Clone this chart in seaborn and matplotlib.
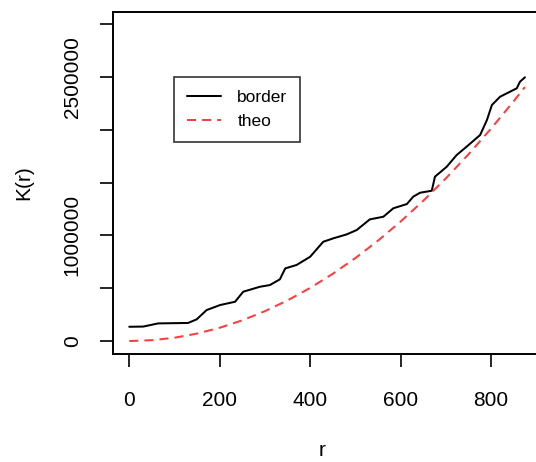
import matplotlib
matplotlib.use("Agg")
import matplotlib.pyplot as plt
import seaborn as sns
import pandas as pd

# values
r_border = [0, 31, 64, 130, 149, 171, 201, 234, 252, 289, 311, 333, 345, 370,
            400, 429, 451, 481, 503, 532, 562, 584, 614, 628, 643, 669, 676,
            702, 724, 746, 776, 791, 802, 820, 857, 864, 875]
k_border = [135000, 137000, 167000, 171000, 205000, 293000, 341000, 372000,
            467000, 514000, 530000, 584000, 688000, 720000, 798000, 940000,
            972000, 1010000, 1051000, 1152000, 1177000, 1257000, 1297000,
            1367000, 1404000, 1423000, 1556000, 1650000, 1761000, 1840000,
            1951000, 2093000, 2235000, 2313000, 2393000, 2455000, 2497000]

r_theo = [0, 50, 100, 150, 200, 250, 300, 350, 400, 450, 500, 550, 600, 650,
          700, 750, 800, 850, 875]
k_theo = [0, 7850, 31400, 70700, 125700, 196300, 282700, 384800, 502700,
          636200, 785400, 950300, 1131000, 1327300, 1539400, 1767100,
          2010600, 2269800, 2405300]

x_ticks = [0, 200, 400, 600, 800]
y_ticks = [0, 500000, 1000000, 1500000, 2000000, 2500000, 3000000]
y_labels = ["0", "", "1000000", "", "", "2500000", ""]

sns.set_theme(style="white")
plt.rcParams["font.family"] = ["Liberation Sans", "DejaVu Sans"]

df_border = pd.DataFrame({"r": r_border, "K": k_border})
df_theo = pd.DataFrame({"r": r_theo, "K": k_theo})

fig = plt.figure(figsize=(5.36, 4.62), dpi=100)
# axes run past the right edge of the figure, as in the reference crop
ax = fig.add_axes([0.2108, 0.2344, 0.82, 0.7407])

sns.lineplot(data=df_border, x="r", y="K", ax=ax, color="black", lw=1.45,
             label="border", sort=False)
sns.lineplot(data=df_theo, x="r", y="K", ax=ax, color="#ff3b3b", lw=1.45,
             label="theo", dashes=False, sort=False)
ax.lines[1].set_dashes((4.5, 3))

ax.set_xlim(-36, 936)
ax.set_ylim(-120000, 3120000)
ax.set_xticks(x_ticks)
ax.set_xticklabels([str(v) for v in x_ticks])
ax.set_yticks(y_ticks)
ax.set_yticklabels(y_labels, rotation=90, va="center")

for s in ax.spines.values():
    s.set_color("black")
    s.set_linewidth(1.4)

ax.tick_params(axis="both", which="major", length=9.5, width=1.2,
               color="black", labelcolor="black", labelsize=15, direction="out",
               left=True, bottom=True)
ax.tick_params(axis="x", pad=17)
ax.tick_params(axis="y", pad=13)

ax.set_xlabel("r", fontsize=15, color="black")
ax.xaxis.set_label_coords(0.4755, -0.255)
ax.set_ylabel("K(r)", fontsize=15, labelpad=21, color="black")

leg = ax.legend(loc="upper left", bbox_to_anchor=(0.1388, 0.809), fontsize=12.5,
                frameon=True, fancybox=False, edgecolor="black",
                handlelength=1.95, handletextpad=0.96, borderpad=0.74,
                labelspacing=0.5, borderaxespad=0)
leg.get_frame().set_linewidth(1.2)
for t in leg.get_texts():
    t.set_color("black")

fig.savefig("out.png", dpi=100, facecolor="white")
